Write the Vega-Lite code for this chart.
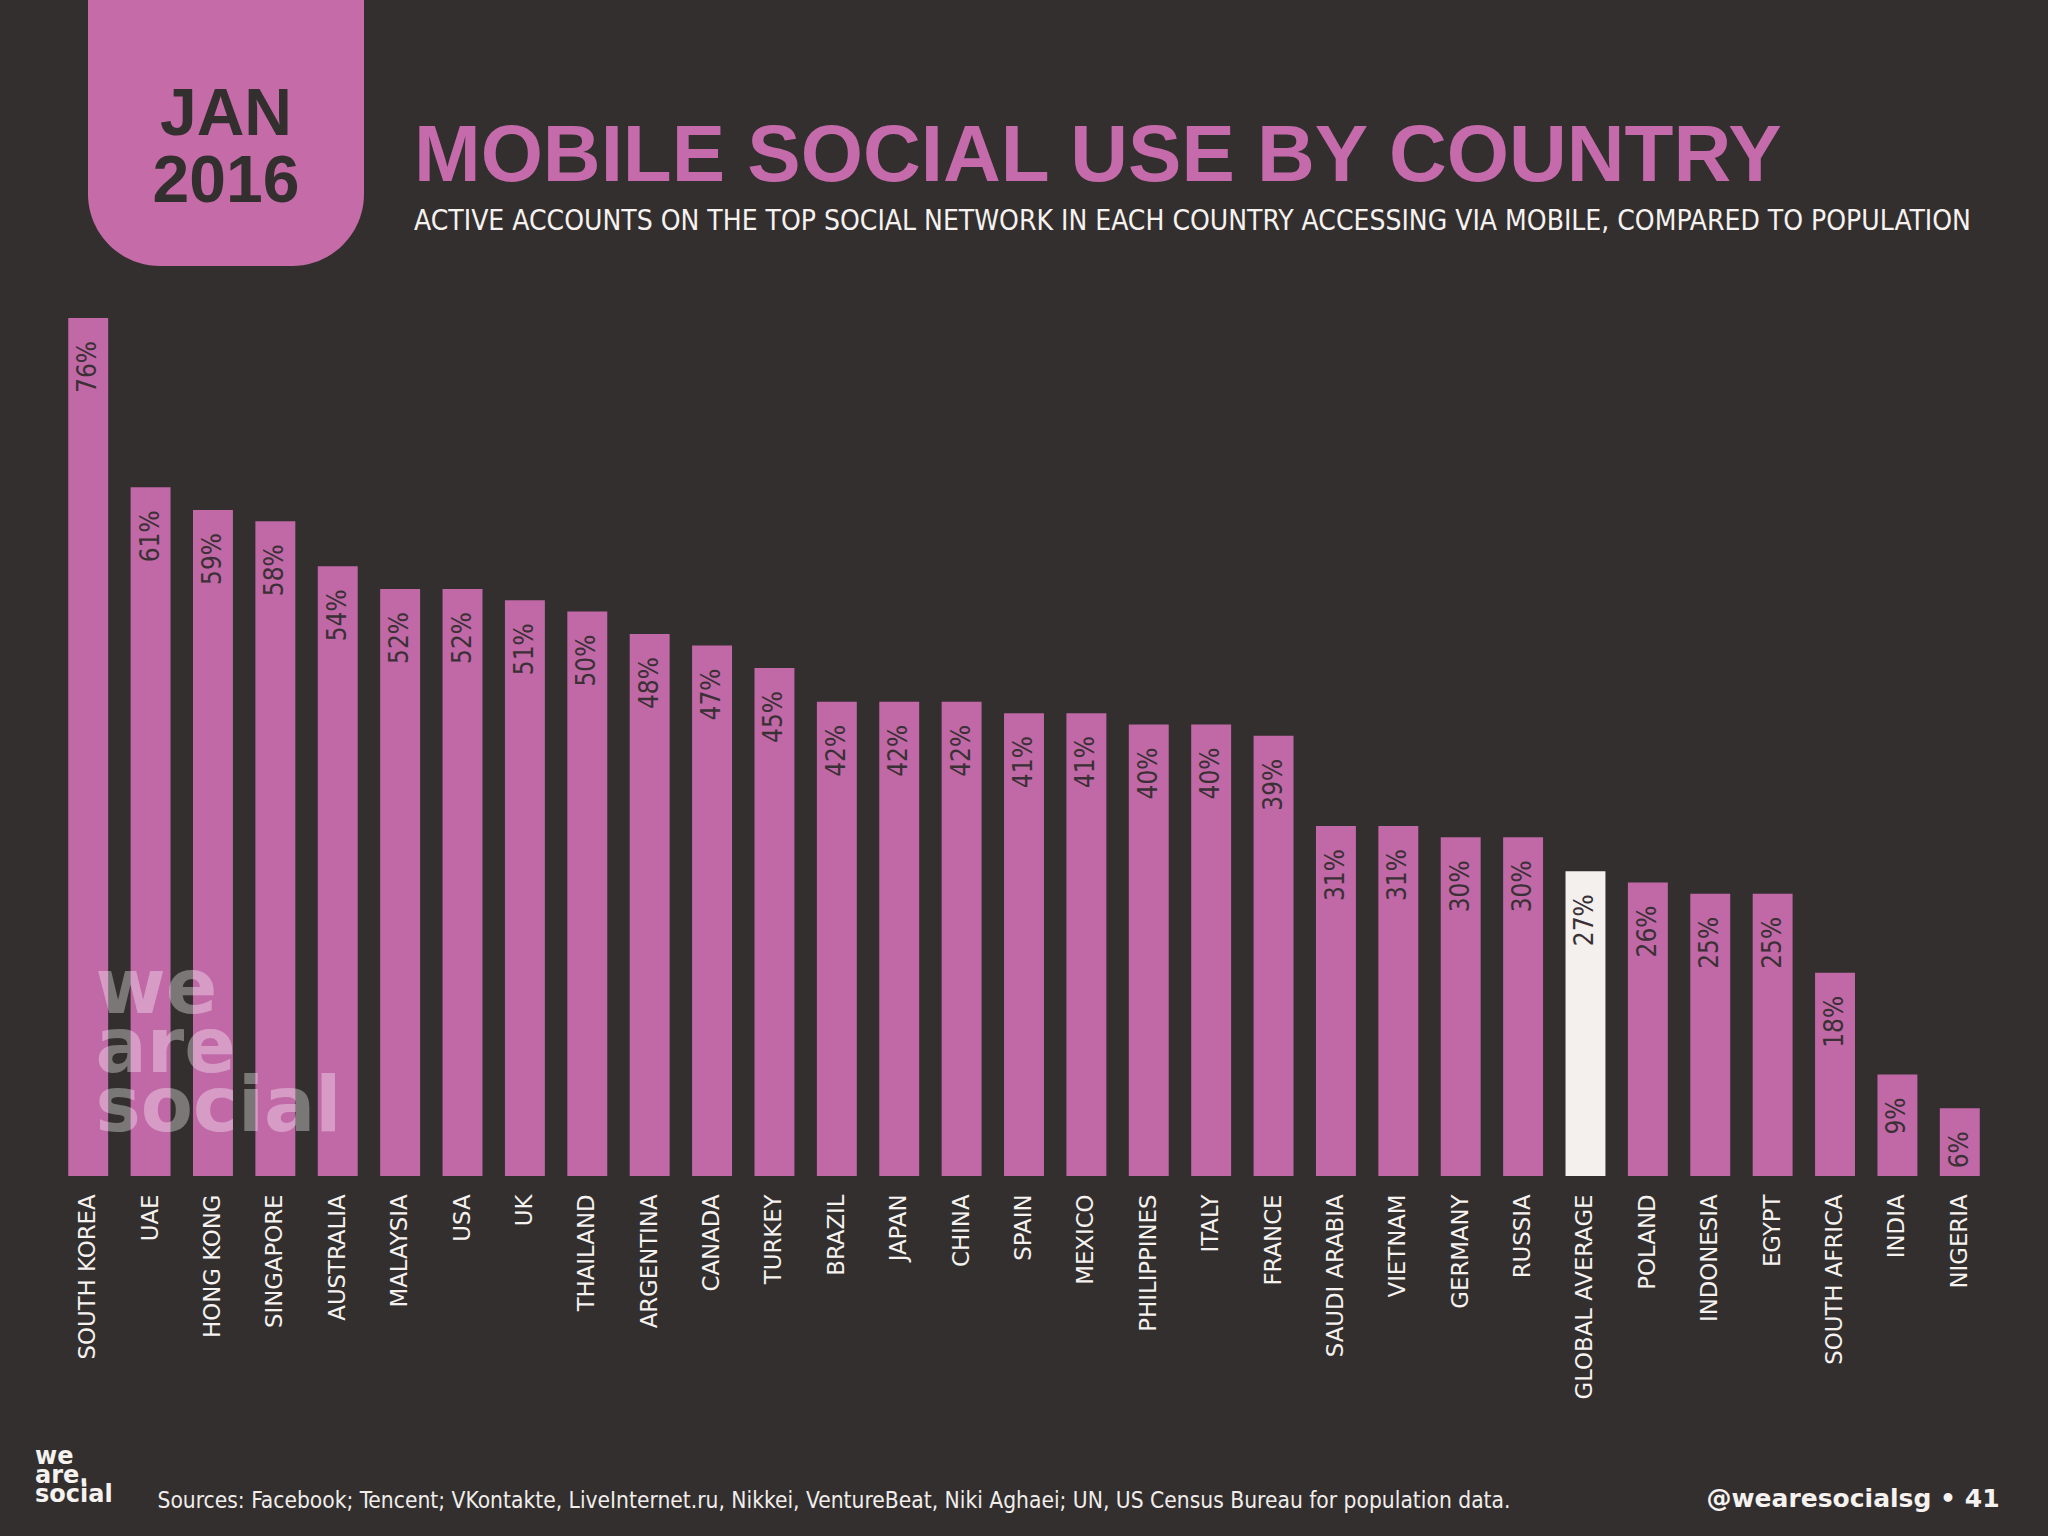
{
  "$schema": "https://vega.github.io/schema/vega-lite/v6.json",
  "autosize": {"type": "none"},
  "padding": {"left": 57, "right": 1991, "top": 0, "bottom": 1536},
  "background": "#332F2F",
  "config": {"view": {"stroke": null}},
  "bounds": "flush",
  "spacing": 52,
  "datasets": {
    "badge": [{"badge": "JAN 2016"}],
    "countries": [
      {"country": "SOUTH KOREA", "value": 0.76, "kind": "country"},
      {"country": "UAE", "value": 0.61, "kind": "country"},
      {"country": "HONG KONG", "value": 0.59, "kind": "country"},
      {"country": "SINGAPORE", "value": 0.58, "kind": "country"},
      {"country": "AUSTRALIA", "value": 0.54, "kind": "country"},
      {"country": "MALAYSIA", "value": 0.52, "kind": "country"},
      {"country": "USA", "value": 0.52, "kind": "country"},
      {"country": "UK", "value": 0.51, "kind": "country"},
      {"country": "THAILAND", "value": 0.50, "kind": "country"},
      {"country": "ARGENTINA", "value": 0.48, "kind": "country"},
      {"country": "CANADA", "value": 0.47, "kind": "country"},
      {"country": "TURKEY", "value": 0.45, "kind": "country"},
      {"country": "BRAZIL", "value": 0.42, "kind": "country"},
      {"country": "JAPAN", "value": 0.42, "kind": "country"},
      {"country": "CHINA", "value": 0.42, "kind": "country"},
      {"country": "SPAIN", "value": 0.41, "kind": "country"},
      {"country": "MEXICO", "value": 0.41, "kind": "country"},
      {"country": "PHILIPPINES", "value": 0.40, "kind": "country"},
      {"country": "ITALY", "value": 0.40, "kind": "country"},
      {"country": "FRANCE", "value": 0.39, "kind": "country"},
      {"country": "SAUDI ARABIA", "value": 0.31, "kind": "country"},
      {"country": "VIETNAM", "value": 0.31, "kind": "country"},
      {"country": "GERMANY", "value": 0.30, "kind": "country"},
      {"country": "RUSSIA", "value": 0.30, "kind": "country"},
      {"country": "GLOBAL AVERAGE", "value": 0.27, "kind": "average"},
      {"country": "POLAND", "value": 0.26, "kind": "country"},
      {"country": "INDONESIA", "value": 0.25, "kind": "country"},
      {"country": "EGYPT", "value": 0.25, "kind": "country"},
      {"country": "SOUTH AFRICA", "value": 0.18, "kind": "country"},
      {"country": "INDIA", "value": 0.09, "kind": "country"},
      {"country": "NIGERIA", "value": 0.06, "kind": "country"}
    ]
  },
  "vconcat": [
    {
      "width": 338,
      "height": 266,
      "data": {"name": "badge"},
      "encoding": {
        "x": {"field": "badge", "type": "nominal", "axis": null,
              "scale": {"paddingInner": 0, "paddingOuter": 0.1123}}
      },
      "layer": [
        {
          "mark": {"type": "bar", "color": "#C46BA8", "cornerRadiusBottomLeft": 72, "cornerRadiusBottomRight": 72},
          "encoding": {
            "y": {"aggregate": "count", "type": "quantitative", "axis": null,
                  "scale": {"domain": [0, 1], "reverse": true, "nice": false, "zero": true}}
          }
        },
        {
          "mark": {"type": "text", "font": "Liberation Sans", "fontWeight": "bold", "fontSize": 66,
                   "color": "#332F2F", "lineBreak": " ", "lineHeight": 67, "align": "center", "baseline": "middle"},
          "encoding": {
            "y": {"datum": 0.434, "type": "quantitative"},
            "text": {"field": "badge"}
          }
        }
      ]
    },
    {
      "width": 1934,
      "height": 858,
      "data": {"name": "countries"},
      "title": {
        "text": "MOBILE SOCIAL USE BY COUNTRY",
        "subtitle": "ACTIVE ACCOUNTS ON THE TOP SOCIAL NETWORK IN EACH COUNTRY ACCESSING VIA MOBILE, COMPARED TO POPULATION",
        "anchor": "start",
        "frame": "group",
        "dx": 357,
        "offset": 81,
        "font": "Liberation Sans",
        "fontWeight": "bold",
        "fontSize": 80,
        "color": "#C56BAB",
        "subtitleFont": "DejaVu Sans Condensed, DejaVu Sans",
        "subtitleFontSize": 28,
        "subtitleColor": "#F5F2F0",
        "subtitlePadding": 10
      },
      "encoding": {
        "x": {
          "field": "country", "type": "nominal", "sort": null,
          "scale": {"paddingInner": 0.36, "paddingOuter": 0.18},
          "axis": {
            "labelAngle": 270, "labelPadding": 18, "ticks": false, "domain": false, "grid": false,
            "labelFont": "DejaVu Sans", "labelFontSize": 22.8, "labelColor": "#F5F2F0", "labelLimit": 0,
            "labelOverlap": false, "labelBound": false, "labelFlush": false,
            "title": "Sources: Facebook; Tencent; VKontakte, LiveInternet.ru, Nikkei, VentureBeat, Niki Aghaei; UN, US Census Bureau for population data.",
            "titleX": 100, "titleY": 331, "titleAlign": "left", "titleAnchor": null, "titleBaseline": "alphabetic", "titleAngle": 0,
            "titleFont": "DejaVu Sans Condensed, DejaVu Sans", "titleFontSize": 22.6,
            "titleFontWeight": "normal", "titleColor": "#F0EDEB", "titleLimit": 0
          }
        }
      },
      "layer": [
        {
          "mark": {"type": "bar"},
          "encoding": {
            "y": {
              "field": "value", "type": "quantitative",
              "scale": {"domain": [0, 0.76], "nice": false, "zero": true},
              "axis": {
                "orient": "left", "labels": false, "ticks": false, "domain": false, "grid": false, "zindex": 1,
                "title": ["we", "are", "social"],
                "titleX": 38, "titleY": 694, "titleAngle": 0, "titleAlign": "left", "titleAnchor": null, "titleBaseline": "alphabetic",
                "titleFont": "DejaVu Sans", "titleFontWeight": "bold", "titleFontSize": 76, "titleLineHeight": 59,
                "titleColor": "#FFFFFF", "titleOpacity": 0.35
              }
            },
            "color": {
              "field": "kind", "type": "nominal",
              "scale": {"domain": ["country", "average"], "range": ["#C168A7", "#F3F0EE"]},
              "legend": {
                "orient": "none", "legendX": -22, "legendY": 1471,
                "title": ["we", "are.", "social"], "titleOrient": "left", "titlePadding": 20,
                "titleFont": "DejaVu Sans", "titleFontWeight": "bold", "titleFontSize": 24, "titleLineHeight": 19,
                "titleColor": "#F5F2F0",
                "values": ["country"], "labelExpr": "''",
                "symbolType": "circle", "symbolSize": 40, "symbolStrokeWidth": 0, "symbolOpacity": 0
              }
            }
          }
        },
        {
          "mark": {"type": "text", "angle": 270, "align": "right", "baseline": "middle", "dx": -23,
                   "font": "DejaVu Sans Condensed, DejaVu Sans", "fontSize": 26, "color": "#3A3035"},
          "encoding": {
            "y": {
              "field": "value", "type": "quantitative",
              "axis": {
                "orient": "right", "labels": false, "ticks": false, "domain": false, "grid": false,
                "title": "@wearesocialsg • 41",
                "titleX": -285, "titleY": 1188, "titleAngle": 0, "titleAlign": "left", "titleAnchor": null, "titleBaseline": "alphabetic",
                "titleFont": "DejaVu Sans", "titleFontWeight": "bold", "titleFontSize": 25, "titleColor": "#F5F2F0"
              }
            },
            "text": {"field": "value", "type": "quantitative", "format": ".0%"}
          }
        }
      ],
      "resolve": {"axis": {"y": "independent"}}
    }
  ]
}
